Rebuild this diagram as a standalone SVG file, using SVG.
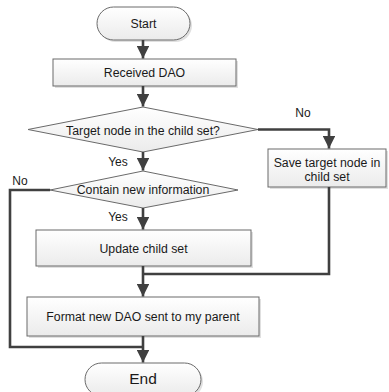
<svg xmlns="http://www.w3.org/2000/svg" width="389" height="392" viewBox="0 0 389 392">
<defs>
<linearGradient id="g" x1="0" y1="0" x2="0" y2="1">
<stop offset="0" stop-color="#ffffff"/>
<stop offset="1" stop-color="#ebebeb"/>
</linearGradient>
<marker id="ah" viewBox="0 0 10 10" refX="10" refY="5" markerWidth="4.8" markerHeight="4.8" markerUnits="strokeWidth" orient="auto">
<path d="M0,0 L10,5 L0,10 z" fill="#404040"/>
</marker>
</defs>
<style>
.s{fill:url(#g);stroke:#6a6a6a;stroke-width:1}
.sh{fill:#e0e0e0;stroke:none}
.t{font-family:"Liberation Sans",Arial,sans-serif;font-size:12.3px;fill:#1a1a1a;text-anchor:middle;dominant-baseline:central}
.c{fill:none;stroke:#404040;stroke-width:2.6}
.l{font-family:"Liberation Sans",Arial,sans-serif;font-size:12px;fill:#1a1a1a;text-anchor:middle;dominant-baseline:central}
</style>
<g id="start">
<rect class="sh" x="99" y="9" width="93" height="33" rx="16.5"/>
<rect class="s" x="97" y="7" width="93" height="33" rx="16.5"/>
<text class="t" x="143.5" y="23.5">Start</text>
</g>
<g id="received">
<rect class="sh" x="55" y="61" width="183" height="27"/>
<rect class="s" x="53" y="59" width="183" height="27"/>
<text class="t" x="144.5" y="72.5">Received DAO</text>
</g>
<g id="target">
<polygon class="s" points="143,107 258,129.5 143,152 28,129.5"/>
<text class="t" x="143" y="131">Target node in the child set?</text>
</g>
<g id="save">
<rect class="sh" x="270" y="151" width="118" height="38"/>
<rect class="s" x="268" y="149" width="118" height="38"/>
<text class="t" x="327" y="162.5">Save target node in</text>
<text class="t" x="327" y="177">child set</text>
</g>
<g id="contain">
<polygon class="s" points="143,171 238,190 143,208 50,190"/>
<text class="t" x="143" y="190">Contain new information</text>
</g>
<g id="update">
<rect class="sh" x="38" y="232" width="215" height="36"/>
<rect class="s" x="36" y="230" width="215" height="36"/>
<text class="t" x="143.5" y="249">Update child set</text>
</g>
<g id="format">
<rect class="sh" x="29" y="299" width="232" height="39"/>
<rect class="s" x="27" y="297" width="232" height="39"/>
<text class="t" x="143" y="316.5">Format new DAO sent to my parent</text>
</g>
<g id="end">
<rect class="sh" x="87" y="365" width="116" height="33" rx="16.5"/>
<rect class="s" x="85" y="363" width="116" height="33" rx="16.5"/>
<text class="t" x="143" y="378" style="font-size:15.5px">End</text>
</g>
<g id="connectors">
<path class="c" d="M143,40 V58.5" marker-end="url(#ah)"/>
<path class="c" d="M143,86 V106.5" marker-end="url(#ah)"/>
<path class="c" d="M143,152 V170.5" marker-end="url(#ah)"/>
<path class="c" d="M143,208 V229.5" marker-end="url(#ah)"/>
<path class="c" d="M258,129.5 H329 V148.5" marker-end="url(#ah)"/>
<path class="c" d="M329,187 V274 H143"/>
<path class="c" d="M143,266 V296.5" marker-end="url(#ah)"/>
<path class="c" d="M50,190 H10 V347 H143"/>
<path class="c" d="M143,336 V362.5" marker-end="url(#ah)"/>
<text class="l" x="303" y="113">No</text>
<text class="l" x="20" y="181">No</text>
<text class="l" x="118" y="162">Yes</text>
<text class="l" x="118" y="217">Yes</text>
</g>
</svg>
